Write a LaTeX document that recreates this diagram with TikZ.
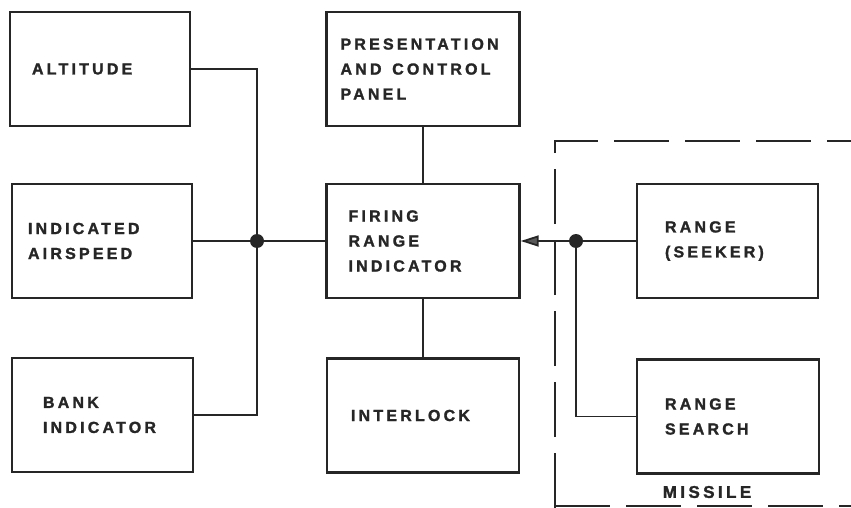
\documentclass[tikz,border=0pt]{standalone}
\usepackage{fontspec}
\newfontfamily\blockfont[LetterSpace=20, BoldFeatures={FakeBold=1.6}]{Liberation Sans}
\usetikzlibrary{arrows.meta}
\tikzset{
  blockbox/.style 2 args={
    rectangle, draw=black!85, line width=2.4pt,
    text width=#1, inner xsep=#2, inner ysep=0pt,
    minimum height=114pt, align=left,
    font=\blockfont\bfseries\fontsize{16}{25}\selectfont, text=black!85
  },
  wire/.style={line width=1.8pt, draw=black!85},
  feedarrow/.style={wire, -{Triangle[length=18pt, width=11pt, fill=black!65]}},
  junction/.style={circle, fill=black!85, inner sep=0pt, minimum size=14pt},
  boundary/.style={line width=2pt, draw=black!85, dash pattern=on 55pt off 16pt},
}

\begin{document}
\begin{tikzpicture}[x=1pt, y=-1pt]
  \useasboundingbox (0,0) rectangle (851,508);
  % sensor inputs
  \node[blockbox={136pt}{22pt}] (alt) at (100,69) {ALTITUDE};
  \node[blockbox={148pt}{16pt}] (air) at (102,241) {INDICATED\\AIRSPEED};
  \node[blockbox={119pt}{31pt}] (bank) at (102.5,415) {BANK\\INDICATOR};
  % computer and panel
  \node[blockbox={165pt}{14pt}] (pres) at (423,69) {PRESENTATION\\AND~~CONTROL\\PANEL};
  \node[blockbox={149pt}{22pt}] (fire) at (423,241) {FIRING\\RANGE\\INDICATOR};
  \node[blockbox={144pt}{24pt}] (inter) at (423,415.5) {INTERLOCK};
  % missile side
  \node[blockbox={125pt}{28pt}] (seek) at (727.5,241) {RANGE\\(SEEKER)};
  \node[blockbox={126pt}{28pt}] (srch) at (728,416.5) {RANGE\\SEARCH};
  \node[font=\blockfont\bfseries\fontsize{17}{20}\selectfont, text=black!85] (missile) at (707,492) {MISSILE};

  \node[junction] (jl) at (257,241) {};
  \node[junction] (jr) at (576,241) {};

  \draw[wire] (alt.east) -| (jl);
  \draw[wire] (jl) |- (bank.east);
  \draw[wire] (air.east) -- (jl) -- (fire.west);
  \draw[wire] (pres.south) -- (fire.north);
  \draw[wire] (fire.south) -- (inter.north);
  \draw[wire] (seek.west) -- (jr);
  \draw[feedarrow] (jr) -- (fire.east);
  \draw[wire] (jr) |- (srch.west);

  \draw[boundary] (555,508) -- (555,141) -- (851,141);
  \draw[boundary] (555,506) -- (851,506);
\end{tikzpicture}
\end{document}
